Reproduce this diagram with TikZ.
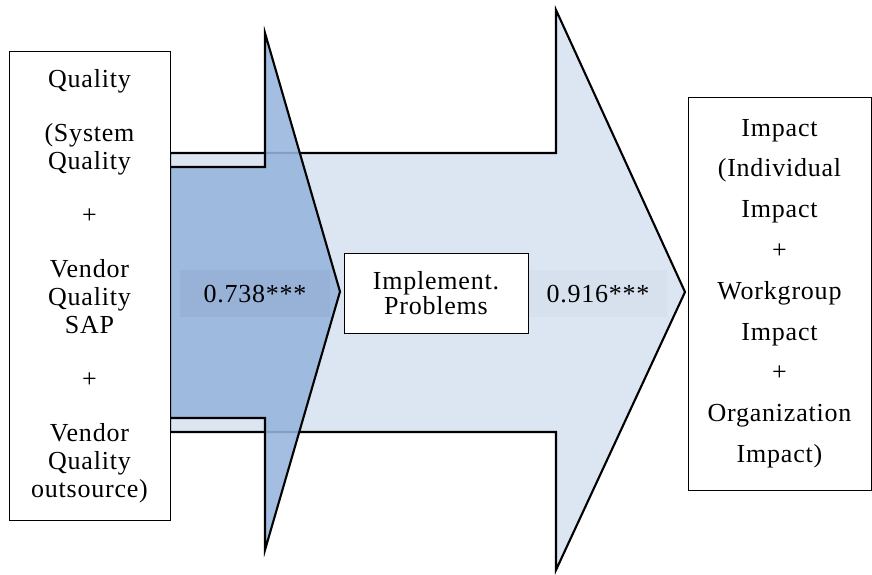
\documentclass[tikz,border=0pt]{standalone}
\usepackage{fontspec}
\setmainfont[LetterSpace=3]{Liberation Serif}
\usepackage{tikz}
\definecolor{darkarrow}{RGB}{150,181,221}
\definecolor{lightarrow}{RGB}{220,230,242}

\begin{document}
\begin{tikzpicture}[every node/.style={inner sep=1.5pt},
  txt/.style={align=center, text=black},
  box/.style={draw, fill=white, line width=0.7pt, txt},
  bigarrow/.style={draw=black, line width=1.5pt, line join=miter},
  lbl/.style={fill=black, text opacity=1, txt,
    font=\fontsize{18.5}{20}\selectfont, minimum height=1.175cm}]
  \useasboundingbox (0,0) rectangle (21.8,14.35);
  % light arrow
  \coordinate (lA) at (4.25,10.525);
  \coordinate (lB) at (13.9,10.525);
  \coordinate (lC) at (13.9,14.1);
  \coordinate (lT) at (17.125,7.05);
  \coordinate (lD) at (13.9,0.1);
  \coordinate (lE) at (13.9,3.55);
  \coordinate (lF) at (4.25,3.55);
  \filldraw[bigarrow, fill=lightarrow] (lA) -- (lB) -- (lC) -- (lT) -- (lD) -- (lE) -- (lF) -- cycle;
  % dark arrow
  \coordinate (dA) at (4.25,10.175);
  \coordinate (dB) at (6.625,10.175);
  \coordinate (dC) at (6.625,13.525);
  \coordinate (dT) at (8.5,7.06);
  \coordinate (dD) at (6.625,0.6);
  \coordinate (dE) at (6.625,3.9);
  \coordinate (dF) at (4.25,3.9);
  \filldraw[bigarrow, fill=darkarrow, fill opacity=0.88] (dA) -- (dB) -- (dC) -- (dT) -- (dD) -- (dE) -- (dF) -- cycle;
  \node[lbl, fill opacity=0.04, minimum width=3.75cm] (r1) at (6.375,7.01) {0.738***};
  \node[lbl, fill opacity=0.02, minimum width=3.45cm] (r2) at (14.95,7.01) {0.916***};
  \node[box, font=\fontsize{18.5}{19.9}\selectfont, minimum width=4.025cm, minimum height=11.7cm] (qual) at (2.2375,7.2)
    {Quality\\[0.65cm](System\\Quality\\[0.65cm]+\\[0.65cm]Vendor\\Quality\\SAP\\[0.65cm]+\\[0.65cm]Vendor\\Quality\\outsource)};
  \node[box, font=\fontsize{18.5}{17.7}\selectfont, minimum width=4.6cm, minimum height=2cm] (impl) at (10.9,7.025)
    {Implement.\\Problems};
  \node[box, font=\fontsize{18.5}{29}\selectfont, minimum width=4.575cm, minimum height=9.825cm] (impact) at (19.4875,7.0125)
    {Impact\\(Individual\\Impact\\+\\Workgroup\\Impact\\+\\Organization\\Impact)};
\end{tikzpicture}
\end{document}
